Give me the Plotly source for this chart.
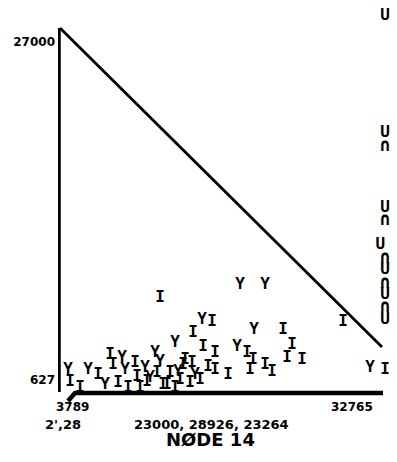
import plotly.graph_objects as go

# ---- data (node units) ----
i_x = [12897, 18279, 31838, 36185, 16313, 17348, 18590, 25628, 21901, 22523, 23765, 24489,
       19935, 26559, 26042, 27594, 17037, 17865, 16209, 12587, 13932, 13208, 16002, 14967,
       3582, 6480, 7722, 8032, 8550, 10310, 10517, 9585, 11552, 15278, 22212,
       4617, 10827, 13622, 15485, 14450, 18590]
i_y = [7023, 5151, 5151, 1407, 4293, 3201, 2733, 4527, 2733, 2187, 1797, 1251,
       1017, 3357, 2343, 2187, 627, 1641, 1953, 1173, 1173, 237, 393, 627,
       471, 1017, 2577, 1797, 393, 1953, 861, 3, 471, 1797, 1407,
       3, 3, 237, 2187, 3, 1407]

y_x = [21177, 23765, 17244, 34632, 22626, 20867, 14450, 12380, 3375, 5445, 8964, 9275,
       11345, 7205, 12897, 14760, 16520, 11862]
y_y = [8037, 8037, 5307, 1563, 4527, 3201, 3513, 2733, 1407, 1407, 2343, 1407,
       1563, 237, 2031, 1251, 1017, 783]

u_x = [36185, 36185, 36185, 35700, 36185, 36185, 36185]
u_y = [29019, 19893, 14043, 11157, 9207, 7257, 5307]

n_x = [36185, 36185, 36185, 36185, 36185]
n_y = [18879, 13107, 10143, 8193, 6321]

diag_x = [2547, 35874]
diag_y = [28083, 3201]

yaxis_x = [2392, 2392]
yaxis_y = [28083, -309]

xaxis_x = [3375, 3900, 4100, 35977]
xaxis_y = [-1011, -480, -387, -387]

y_tickvals = [627, 27000]
y_ticktext = ["627", "27000"]

x_labels_row1 = [(3789, "3789"), (32765, "32765")]
x_labels_row2 = [(0.015, "2',28"), (0.463, "23000, 28926, 23264")]
title_text = "NØDE 14"

MARK_FONT = dict(family="DejaVu Sans Mono", color="black", weight="bold")

fig = go.Figure()
for xs, ys in [(yaxis_x, yaxis_y), (xaxis_x, xaxis_y)]:
    fig.add_trace(go.Scatter(x=xs, y=ys, mode="lines", line=dict(color="black", width=4.5),
                             hoverinfo="skip", showlegend=False))
fig.add_trace(go.Scatter(x=diag_x, y=diag_y, mode="lines", line=dict(color="black", width=2.8),
                         showlegend=False))
for xs, ys, g, sz in [(i_x, i_y, "I", 16), (y_x, y_y, "Y", 16), (u_x, u_y, "U", 16),
                      (n_x, n_y, "∩", 18)]:
    f = dict(MARK_FONT)
    f["size"] = sz
    fig.add_trace(go.Scatter(x=xs, y=ys, mode="text", text=[g] * len(xs),
                             textfont=f, cliponaxis=False, showlegend=False))

LBL = dict(family="DejaVu Sans", size=12, color="black", weight="bold")
for x, t in x_labels_row1:
    fig.add_annotation(x=x, y=-0.006, xref="x", yref="paper", text=t, showarrow=False,
                       font=LBL, xanchor="center", yanchor="middle")
for x, t in x_labels_row2:
    fig.add_annotation(x=x, y=-0.05, xref="paper", yref="paper", text=t, showarrow=False,
                       font=dict(LBL, size=13), xanchor="center", yanchor="middle")
fig.add_annotation(x=0.459, y=-0.088, xref="paper", yref="paper", text=title_text,
                   showarrow=False, xanchor="center", yanchor="middle",
                   font=dict(family="DejaVu Sans", size=18, color="black", weight="bold"))

fig.update_layout(
    width=397, height=462,
    margin=dict(l=58, r=7, t=8, b=57),
    paper_bgcolor="white", plot_bgcolor="white",
    xaxis=dict(range=[2340, 36702], showgrid=False, zeroline=False, showline=False,
               showticklabels=False, ticks=""),
    yaxis=dict(range=[-1323, 29643], showgrid=False, zeroline=False, showline=False,
               tickvals=y_tickvals, ticktext=y_ticktext, ticks="", ticklabelstandoff=2,
               tickfont=LBL),
)
fig.write_html("out.html")
